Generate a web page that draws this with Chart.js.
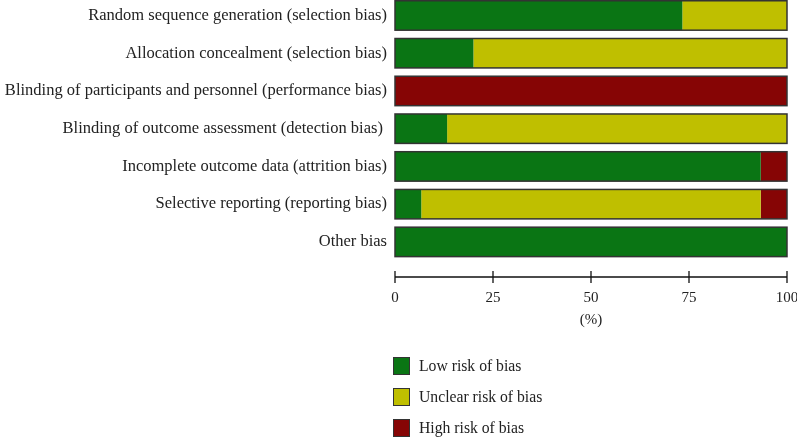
<!DOCTYPE html>
<html>
<head>
<meta charset="utf-8">
<script src="https://cdn.jsdelivr.net/npm/chart.js@4"></script>
<style>
  body { margin: 0; background: #fff; }
  #wrap { position: relative; width: 797px; height: 438px; }
  #legend { position: absolute; left: 393px; top: 357px; font-family: "Liberation Serif", serif; font-size: 15.7px; color: #222; }
  .item { height: 31px; display: flex; align-items: flex-start; }
  .box { width: 15px; height: 16px; border: 1.5px solid #333; margin-right: 9px; }
  .item span { line-height: 18px; }
</style>
</head>
<body>
<div id="wrap">
  <canvas id="canvas" width="797" height="438"></canvas>
  <div id="legend"></div>
</div>
<script>
var categories = [
  'Random sequence generation (selection bias)',
  'Allocation concealment (selection bias)',
  'Blinding of participants and personnel (performance bias)',
  'Blinding of outcome assessment (detection bias) ',
  'Incomplete outcome data (attrition bias)',
  'Selective reporting (reporting bias)',
  'Other bias'
];
var lowRisk = [73.3, 20, 0, 13.3, 93.3, 6.7, 100];
var unclearRisk = [26.7, 80, 0, 86.7, 0, 86.6, 0];
var highRisk = [0, 0, 100, 0, 6.7, 6.7, 0];
var xTicks = [0, 25, 50, 75, 100];

function points(arr) {
  return arr.map(function (v, i) { return { x: v, y: i }; });
}

// outline round each full bar + the detached x axis line
var outlinePlugin = {
  id: 'outline',
  afterDatasetsDraw: function (chart) {
    var ctx = chart.ctx;
    var xs = chart.scales.x;
    var meta = chart.getDatasetMeta(0);
    ctx.save();
    ctx.strokeStyle = '#333';
    ctx.lineWidth = 1.5;
    meta.data.forEach(function (bar) {
      var h = bar.height;
      var x0 = xs.getPixelForValue(0);
      var x1 = xs.getPixelForValue(100);
      ctx.strokeRect(x0, bar.y - h / 2, x1 - x0, h);
    });
    var yb = chart.chartArea.bottom;
    ctx.strokeStyle = '#111';
    ctx.lineWidth = 1.3;
    ctx.beginPath();
    ctx.moveTo(xs.getPixelForValue(0), yb);
    ctx.lineTo(xs.getPixelForValue(100), yb);
    xTicks.forEach(function (t) {
      var px = xs.getPixelForValue(t);
      ctx.moveTo(px, yb - 6);
      ctx.lineTo(px, yb + 6);
    });
    ctx.stroke();
    ctx.restore();
  }
};

Chart.defaults.font.family = '"Liberation Serif", serif';
Chart.defaults.font.size = 15;
Chart.defaults.color = '#222';

var ctxB = document.getElementById('canvas').getContext('2d');
var chart = new Chart(ctxB, {
  type: 'bar',
  data: {
    datasets: [{
      label: 'Low risk of bias',
      data: points(lowRisk),
      backgroundColor: '#0a7514'
    },
    {
      label: 'Unclear risk of bias',
      data: points(unclearRisk),
      backgroundColor: '#bfbf00'
    },
    {
      label: 'High risk of bias',
      data: points(highRisk),
      backgroundColor: '#860505'
    }]
  },
  options: {
    indexAxis: 'y',
    responsive: false,
    animation: false,
    barPercentage: 0.78,
    categoryPercentage: 1,
    layout: { padding: { left: 0, right: 10, top: 0, bottom: 109 } },
    plugins: {
      legend: { display: false },
      tooltip: { enabled: false }
    },
    scales: {
      x: {
        stacked: true,
        min: 0,
        max: 100,
        grid: { display: false, drawTicks: false },
        border: { display: false },
        afterBuildTicks: function (s) { s.ticks = xTicks.map(function (v) { return { value: v }; }); },
        afterFit: function (s) { s.paddingLeft = 0; s.paddingRight = 0; s.height = 52; },
        ticks: { padding: 12, color: '#222', maxRotation: 0 },
        title: { display: true, text: '(%)', padding: { top: 4, bottom: 0 }, color: '#222' }
      },
      y: {
        type: 'linear',
        stacked: true,
        reverse: true,
        offset: false,
        min: -0.41,
        max: 6.93,
        grid: { display: false, drawTicks: false },
        border: { display: false },
        afterBuildTicks: function (s) { s.ticks = categories.map(function (c, i) { return { value: i }; }); },
        afterFit: function (s) { s.width = 395; s.paddingTop = 0; s.paddingBottom = 0; },
        ticks: {
          padding: 8,
          color: '#222',
          font: { size: 16.5 },
          callback: function (v) { return categories[v]; }
        }
      }
    }
  },
  plugins: [outlinePlugin]
});

var legend = document.getElementById('legend');
chart.data.datasets.forEach(function (ds) {
  var item = document.createElement('div');
  item.className = 'item';
  var box = document.createElement('div');
  box.className = 'box';
  box.style.background = ds.backgroundColor;
  var txt = document.createElement('span');
  txt.textContent = ds.label;
  item.appendChild(box);
  item.appendChild(txt);
  legend.appendChild(item);
});
</script>
</body>
</html>
